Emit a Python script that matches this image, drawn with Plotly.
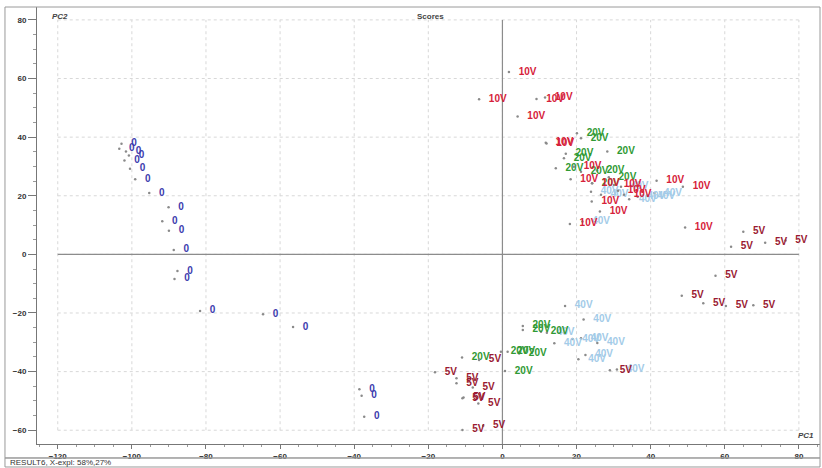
import plotly.graph_objects as go

# ---------------- data (PC1, PC2 scores) ----------------
blue_x = [-102.8, -103.4, -101.6, -100.8, -102.0, -100.5, -99.1, -95.3, -90.1, -91.8,
          -90.0, -88.7, -87.7, -88.5, -81.6, -64.6, -56.5, -38.6, -38.0, -37.3]
blue_y = [37.7, 36.0, 35.1, 33.7, 32.0, 29.2, 25.6, 20.9, 16.1, 11.3,
          8.1, 1.5, -5.7, -8.4, -19.3, -20.4, -24.8, -46.0, -48.2, -55.4]
blue_lab = "0"

v10_x = [1.75, -6.3, 9.2, 11.5, 4.1, 11.7, 11.9, 19.3, 18.4, 24.2, 30.1, 31.2, 32.8,
         41.6, 48.7, 24.1, 26.3, 18.2, 49.3]
v10_y = [62.2, 52.9, 53.0, 53.5, 47.0, 38.1, 37.8, 29.9, 25.6, 24.3, 23.7, 21.7, 20.3,
         25.1, 23.1, 18.0, 14.6, 10.4, 9.2]
v10_lab = "10V"

v5_x = [65.0, 61.7, 70.9, 76.4, 57.5, 48.4, 54.2, 60.3, 67.7, 29.0, -6.3, -18.2,
        -12.4, -12.4, -8.0, -10.8, -10.5, -6.5, -10.8, -5.2]
v5_y = [7.7, 2.6, 4.0, 4.7, -7.3, -14.1, -16.7, -17.6, -17.4, -39.5, -36.0, -40.2,
        -42.3, -44.0, -45.4, -49.1, -48.8, -50.9, -59.9, -58.5]
v5_lab = "5V"

v20_x = [20.1, 21.2, 28.3, 17.1, 16.6, 14.4, 21.2, 25.5, 28.7, 24.2,
         5.5, 5.5, 10.4, -0.4, 1.4, 4.5, 0.7, -10.9]
v20_y = [41.3, 39.6, 35.1, 34.3, 32.8, 29.4, 28.2, 28.6, 26.3, 24.3,
         -24.4, -25.8, -26.4, -33.2, -33.2, -33.8, -39.8, -35.2]
v20_lab = "20V"

v40_x = [23.9, 26.6, 32.0, 34.2, 36.5, 39.2, 41.0, 21.6,
         16.9, 21.9, 14.0, 18.9, 21.2, 25.6, 12.0, 22.4, 20.5, 30.9]
v40_y = [21.4, 20.3, 23.1, 18.8, 19.7, 19.9, 20.9, 11.2,
         -17.6, -22.2, -30.3, -28.9, -28.6, -30.2, -26.7, -34.3, -35.8, -39.3]
v40_lab = "40V"

x_ticks = [-120, -100, -80, -60, -40, -20, 0, 20, 40, 60, 80]
y_ticks = [-60, -40, -20, 0, 20, 40, 60, 80]

# ---------------- figure ----------------
fig = go.Figure()

groups = [
    (v40_x, v40_y, v40_lab, "#a3cbe8"),
    (v20_x, v20_y, v20_lab, "#2f9a34"),
    (v10_x, v10_y, v10_lab, "#d6223a"),
    (v5_x, v5_y, v5_lab, "#9a1a32"),
    (blue_x, blue_y, blue_lab, "#3c3cae"),
]

for gx, gy, lab, col in groups:
    # small point markers
    fig.add_trace(go.Scatter(
        x=gx, y=gy, mode="markers",
        marker=dict(size=2.5, color="#8a8a8a"),
        hoverinfo="skip", showlegend=False))
    # labels placed to the right of each point
    fig.add_trace(go.Scatter(
        x=gx, y=gy, mode="markers+text", text=[lab] * len(gx),
        textposition="middle right",
        marker=dict(size=14, opacity=0),
        textfont=dict(family="Liberation Sans, Arial", size=10, color=col, weight="bold"),
        showlegend=False))

x_lo, x_hi = -125.6, 85.7
y_lo, y_hi = -64.7, 84.4

shapes = []
# dotted grid confined to the tick box
for xv in x_ticks:
    shapes.append(dict(type="line", xref="x", yref="y", x0=xv, x1=xv,
                       y0=y_ticks[0], y1=y_ticks[-1],
                       line=dict(color="#d8d8d8", width=1, dash="dot"), layer="below"))
for yv in y_ticks:
    shapes.append(dict(type="line", xref="x", yref="y", y0=yv, y1=yv,
                       x0=x_ticks[0], x1=x_ticks[-1],
                       line=dict(color="#d8d8d8", width=1, dash="dot"), layer="below"))
# zero lines
shapes.append(dict(type="line", xref="x", yref="y", x0=x_ticks[0], x1=x_ticks[-1], y0=0, y1=0,
                   line=dict(color="#8c8c8c", width=1.2), layer="below"))
shapes.append(dict(type="line", xref="x", yref="y", x0=0, x1=0, y0=y_lo, y1=y_ticks[-1],
                   line=dict(color="#8c8c8c", width=1.2), layer="below"))
# outer frame and status bar
shapes.append(dict(type="rect", xref="paper", yref="paper",
                   x0=-0.0409, x1=1.0, y0=-0.0320, y1=1.0,
                   line=dict(color="#9a9a9a", width=1)))
shapes.append(dict(type="rect", xref="paper", yref="paper",
                   x0=-0.0409, x1=1.0, y0=-0.0526, y1=-0.0320,
                   line=dict(color="#9a9a9a", width=1)))

annotations = [
    dict(text="<b>Scores</b>", x=0.503, y=1.0, xref="paper", yref="paper",
         xanchor="center", yanchor="top", yshift=-3, showarrow=False,
         font=dict(family="Liberation Sans, Arial", size=8, color="#444")),
    dict(text="<b><i>PC2</i></b>", x=0.017, y=1.0, xref="paper", yref="paper",
         xanchor="left", yanchor="top", yshift=-3, showarrow=False,
         font=dict(family="Liberation Sans, Arial", size=8, color="#444")),
    dict(text="<b><i>PC1</i></b>", x=0.995, y=0.0, xref="paper", yref="paper",
         xanchor="right", yanchor="bottom", yshift=2, showarrow=False,
         font=dict(family="Liberation Sans, Arial", size=8, color="#444")),
    dict(text="RESULT6, X-expl: 58%,27%", x=-0.037, y=-0.0423, xref="paper", yref="paper",
         xanchor="left", yanchor="middle", showarrow=False,
         font=dict(family="Liberation Sans, Arial", size=8, color="#333")),
]

axis_font = dict(family="Liberation Sans, Arial", size=8, color="#333", weight="bold")
fig.update_layout(
    width=822, height=468,
    margin=dict(l=37, r=2, t=7, b=24, autoexpand=False),
    paper_bgcolor="white", plot_bgcolor="white",
    shapes=shapes, annotations=annotations,
    xaxis=dict(range=[x_lo, x_hi], tickvals=x_ticks, showgrid=False, zeroline=False,
               showline=True, linecolor="#777", linewidth=1,
               ticks="outside", ticklen=4, tickcolor="#777", tickfont=axis_font,
               minor=dict(dtick=5, tick0=0, ticks="outside", ticklen=2, tickcolor="#999", showgrid=False)),
    yaxis=dict(range=[y_lo, y_hi], tickvals=y_ticks, showgrid=False, zeroline=False,
               showline=True, linecolor="#777", linewidth=1,
               ticks="outside", ticklen=8, tickcolor="#777", tickfont=axis_font,
               minor=dict(dtick=5, tick0=0, ticks="outside", ticklen=3, tickcolor="#999", showgrid=False)),
)

fig.write_html("out.html", config={"displayModeBar": False},
               post_script="document.body.style.margin='0px';document.body.style.overflow='hidden';")
